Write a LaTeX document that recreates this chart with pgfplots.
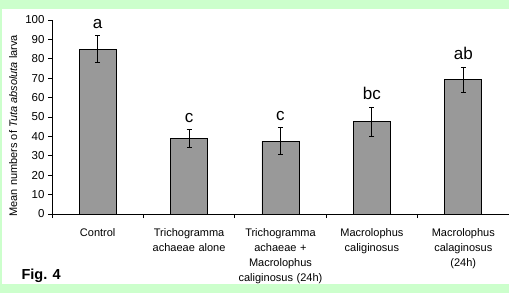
\documentclass[border=0pt]{standalone}
\usepackage{fontspec}
\setmainfont{Liberation Sans}
\usepackage{pgfplots}
\pgfplotsset{compat=1.18}
\definecolor{bggreen}{RGB}{204,255,204}
\definecolor{bargray}{RGB}{153,153,153}
\begin{document}
\begin{tikzpicture}[x=1pt,y=1pt]
\fill[bggreen] (0,0) rectangle (509,293);
\fill[white] (2,9) rectangle (509,284);
\begin{axis}[
  at={(52pt,79pt)}, anchor=south west, scale only axis,
  width=457pt, height=194pt,
  xmin=-0.5, xmax=4.5, ymin=0, ymax=100,
  axis lines=left, axis line style={-, line width=0.8pt},
  tick align=outside, tick pos=left,
  major tick length=4pt, minor tick length=4pt,
  tick style={black, line width=0.8pt},
  ytick={0,10,...,100},
  xtick={0,...,4},
  major x tick style={draw=none},
  minor xtick={-0.5,0.5,...,4.5},
  xticklabels={Control,{Trichogramma\\achaeae alone},{Trichogramma\\achaeae +\\Macrolophus\\caliginosus (24h)},{Macrolophus\\caliginosus},{Macrolophus\\calaginosus\\(24h)}},
  xticklabel style={font=\fontsize{11}{15}\selectfont, text width=100pt, align=center, anchor=north, yshift=-7pt},
  yticklabel style={font=\fontsize{11.5}{13}\selectfont},
  /pgf/number format/assume math mode=true,
  ylabel={Mean numbers of \textit{Tuta absoluta} larva},
  ylabel style={at={(axis description cs:-0.085,0.455)}, anchor=center, font=\fontsize{11}{13}\selectfont},
  clip=false,
]
\addplot[ybar, bar width=37pt, fill=bargray, draw=black, line width=0.8pt,
  error bars/.cd, y dir=both, y explicit,
  error bar style={line width=0.8pt, black},
  error mark options={rotate=90, mark size=2.5pt, line width=0.8pt, black}]
  coordinates {(0,85) +- (0,7) (1,39) +- (0,4.5) (2,37.5) +- (0,7) (3,47.7) +- (0,7.5) (4,69.3) +- (0,6.5)};
\node[anchor=base, yshift=7.5pt, font=\fontsize{17}{19}\selectfont] at (axis cs:0,92) {a};
\node[anchor=base, yshift=7.5pt, font=\fontsize{17}{19}\selectfont] at (axis cs:1,43.5) {c};
\node[anchor=base, yshift=7.5pt, font=\fontsize{17}{19}\selectfont] at (axis cs:2,44.5) {c};
\node[anchor=base, yshift=7.5pt, font=\fontsize{17}{19}\selectfont] at (axis cs:3,55.2) {bc};
\node[anchor=base, yshift=7.5pt, font=\fontsize{17}{19}\selectfont] at (axis cs:4,75.8) {ab};
\end{axis}
\node[anchor=base west, font=\bfseries\fontsize{14.5}{16}\selectfont] at (18,14) {Fig. 4};
\pgfresetboundingbox
\useasboundingbox (0,0) rectangle (509,293);
\end{tikzpicture}
\end{document}
